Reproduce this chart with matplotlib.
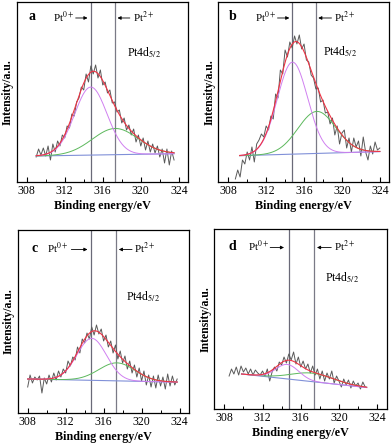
import numpy as np
import matplotlib.pyplot as plt

plt.rcParams['font.family'] = ['Liberation Serif', 'DejaVu Serif']
plt.rcParams['mathtext.fontset'] = 'stix'

panels = ['a', 'b', 'c', 'd']

# raw spectra: first energy, step, intensity (arb. units)
start_a, step_a = 309.0, 0.25
counts_a = [25, 33, 27, 34, 26, 36, 22, 38, 30, 41, 36, 47, 44, 56, 54, 68, 66, 80, 84, 95,
            92, 108, 100, 116, 108, 117, 104, 112, 97, 100, 89, 92, 79, 80, 70, 72, 59, 64, 52, 57,
            47, 53, 40, 47, 36, 44, 32, 41, 30, 38, 29, 36, 25, 33, 19, 33, 17, 31, 22]
start_b, step_b = 308.75, 0.25
counts_b = [3, 12, 5, 22, 18, 30, 22, 35, 20, 38, 42, 48, 45, 56, 52, 66, 63, 88, 84, 112,
            108, 132, 125, 140, 134, 146, 138, 147, 133, 138, 122, 120, 107, 104, 93, 94, 80, 82, 69, 70,
            58, 64, 47, 56, 38, 49, 52, 34, 44, 30, 44, 35, 41, 26, 45, 30, 22, 36, 28, 40,
            32, 34]
start_c, step_c = 308.0, 0.25
counts_c = [26, 38, 30, 36, 33, 37, 20, 35, 29, 38, 31, 40, 33, 42, 36, 44, 40, 52, 47, 56,
            53, 66, 60, 74, 70, 80, 74, 86, 78, 88, 79, 84, 72, 78, 66, 72, 60, 68, 54, 62,
            50, 57, 44, 52, 40, 48, 36, 45, 32, 42, 28, 38, 26, 37, 25, 38, 27, 36, 24, 39,
            27, 37, 28, 34]
start_d, step_d = 308.5, 0.25
counts_d = [33, 40, 35, 42, 34, 43, 37, 41, 35, 40, 34, 39, 36, 34, 38, 33, 40, 28, 37, 42,
            38, 47, 44, 52, 46, 55, 49, 57, 45, 52, 42, 48, 40, 45, 36, 43, 34, 40, 30, 38,
            28, 36, 30, 38, 26, 33, 28, 22, 30, 24, 29, 21, 28, 23, 26, 20, 27, 22]

# fitted Pt(0) and Pt(2+) components: centre, height, sigma
pt0_center = [314.74, 314.78, 314.75, 314.6]
pt0_height = [68, 92, 42, 14.5]
pt0_sigma = [1.7, 1.6, 1.55, 1.2]
pt2_center = [317.3, 317.35, 317.4, 317.2]
pt2_height = [26.2, 42, 18, 8.5]
pt2_sigma = [2.4, 2.0, 1.9, 2.2]

# linear background (start/end energy and level)
bg_x0 = [309.0, 309.2, 308.0, 309.8]
bg_x1 = [323.5, 324.0, 323.75, 322.9]
bg_y0 = [26.0, 26.3, 34.0, 35.0]
bg_y1 = [28.3, 30.4, 30.9, 21.5]

pt0_line = [314.74, 314.78, 314.7, 314.8]
pt2_line = [317.3, 317.25, 317.3, 317.4]

starts = [start_a, start_b, start_c, start_d]
steps = [step_a, step_b, step_c, step_d]
counts = [counts_a, counts_b, counts_c, counts_d]

boxes = [[0.0426, 0.5901, 0.4378, 0.4061],
         [0.5569, 0.5901, 0.4362, 0.4061],
         [0.0452, 0.0698, 0.4370, 0.4122],
         [0.5467, 0.0788, 0.4398, 0.4054]]
ytop = [180.3, 180.3, 183, 180]
label_y = [165, 165, 164.5, 162.5]
label_x = [308.6, 308.5, 308.7, 308.8]
pt0_text_x = [310.8, 310.85, 310.0, 310.5]
pt0_arrow = [(313.15, 314.4), (313.2, 314.45), (312.6, 314.3), (312.8, 314.25)]
pt2_arrow = [(318.85, 317.55), (318.9, 317.5), (319.0, 317.6), (319.2, 317.7)]
pt2_text_x = [319.15, 319.15, 319.2, 319.5]
pt4d_pos = [(318.6, 129), (318.0, 130), (318.4, 116), (318.5, 131)]

fig = plt.figure(figsize=(3.92, 4.44), dpi=100)

for i, name in enumerate(panels):
    ax = fig.add_axes(boxes[i])
    y = np.array(counts[i], dtype=float)
    x = starts[i] + steps[i] * np.arange(len(y))
    ax.plot(x, y, color='#5a5a5a', lw=0.7, zorder=2)

    xf = np.linspace(bg_x0[i], bg_x1[i], 300)
    bg = np.interp(xf, [bg_x0[i], bg_x1[i]], [bg_y0[i], bg_y1[i]])
    p0 = pt0_height[i] * np.exp(-(xf - pt0_center[i]) ** 2 / (2 * pt0_sigma[i] ** 2))
    p2 = pt2_height[i] * np.exp(-(xf - pt2_center[i]) ** 2 / (2 * pt2_sigma[i] ** 2))
    ax.plot(xf, bg, color='#8090d8', lw=0.8, zorder=3)
    ax.plot(xf, bg + p2, color='#5cb85c', lw=0.7, zorder=3)
    ax.plot(xf, bg + p0, color='#d080f0', lw=0.7, zorder=3)
    ax.plot(xf, bg + p0 + p2, color='#ee3344', lw=0.8, zorder=4)

    ax.axvline(pt0_line[i], color='#6a6a78', lw=0.9, zorder=1)
    ax.axvline(pt2_line[i], color='#7a7a86', lw=0.9, zorder=1)

    ax.set_xlim(306.95, 325.0)
    ax.set_ylim(0, ytop[i])
    ax.set_xticks([308, 312, 316, 320, 324])
    ax.set_xticks([310, 314, 318, 322], minor=True)
    ax.set_yticks([])
    ax.tick_params(axis='x', which='major', direction='in', length=3.5, width=0.8,
                   labelsize=8.5, pad=2)
    ax.tick_params(axis='x', which='minor', direction='in', length=2, width=0.7)
    for s in ax.spines.values():
        s.set_linewidth(0.9)

    ax.set_xlabel('Binding energy/eV', fontsize=8.7, fontweight='bold', labelpad=2)
    ax.set_ylabel('Intensity/a.u.', fontsize=8.5, fontweight='bold', labelpad=2)

    ty = label_y[i]
    ax.text(label_x[i], ty, name, fontsize=10, fontweight='bold', ha='center', va='center')
    ax.text(pt0_text_x[i], ty, r'Pt$^{0+}$', fontsize=8, ha='left', va='center')
    ax.annotate('', xy=(pt0_arrow[i][1], ty - 1), xytext=(pt0_arrow[i][0], ty - 1),
                arrowprops=dict(arrowstyle='-|>', color='black', lw=0.6,
                                mutation_scale=5, shrinkA=0, shrinkB=0))
    ax.annotate('', xy=(pt2_arrow[i][1], ty - 1), xytext=(pt2_arrow[i][0], ty - 1),
                arrowprops=dict(arrowstyle='-|>', color='black', lw=0.6,
                                mutation_scale=5, shrinkA=0, shrinkB=0))
    ax.text(pt2_text_x[i], ty, r'Pt$^{2+}$', fontsize=8, ha='left', va='center')
    ax.text(pt4d_pos[i][0], pt4d_pos[i][1], r'Pt4d$_{5/2}$', fontsize=8.5,
            ha='left', va='center')

fig.savefig('out.png', dpi=100)
